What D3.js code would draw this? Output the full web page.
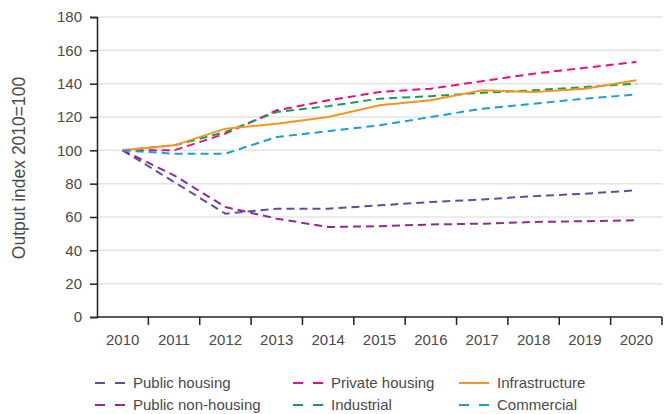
<!DOCTYPE html>
<html>
<head>
<meta charset="utf-8">
<script src="https://cdn.jsdelivr.net/npm/d3@7"></script>
<style>
  body { margin: 0; background: #fff; }
  svg text { font-family: "Liberation Sans", Arial, sans-serif; fill: #4a4a4a; }
</style>
</head>
<body>
<div id="chart"></div>
<script>
var years = ["2010", "2011", "2012", "2013", "2014", "2015", "2016", "2017", "2018", "2019", "2020"];
var yTicks = [0, 20, 40, 60, 80, 100, 120, 140, 160, 180];

var publicHousing    = [100, 81, 62, 65, 65, 67, 69, 70.5, 72.5, 74, 76];
var publicNonHousing = [100, 85, 66, 59, 54, 54.5, 55.5, 56, 57, 57.5, 58];
var privateHousing   = [100, 100, 110, 124, 130, 135, 137, 141.5, 146, 149.5, 153];
var industrial       = [100, 103, 111, 123, 126.5, 131, 132.5, 134.5, 136, 138, 140];
var infrastructure   = [100, 103, 113, 116, 120, 127, 130, 136, 135, 137, 142];
var commercial       = [100, 98, 98, 108, 111.5, 115, 120, 125, 128, 131, 133.5];

var series = [
    {name: "Public housing", values: publicHousing, color: "#5a4fa6", dash: "8,5"},
    {name: "Public non-housing", values: publicNonHousing, color: "#932b8f", dash: "8,5"},
    {name: "Private housing", values: privateHousing, color: "#ea0d84", dash: "8,5"},
    {name: "Industrial", values: industrial, color: "#10a155", dash: "8,5"},
    {name: "Infrastructure", values: infrastructure, color: "#f7941e", dash: null},
    {name: "Commercial", values: commercial, color: "#1b9ddb", dash: "8,5"}
];

function init() {
    var w = 666, h = 414;
    var left = 97, right = 662, top = 17, bottom = 317;

    var svg = d3.select("#chart").append("svg")
        .attr("width", w)
        .attr("height", h);

    var x = d3.scaleBand().domain(years).range([left, right]);
    var y = d3.scaleLinear().domain([0, 180]).range([bottom, top]);

    // grid
    svg.append("g").selectAll("line")
        .data(yTicks.filter(function(d) { return d > 0; }))
        .enter().append("line")
        .attr("x1", left).attr("x2", right)
        .attr("y1", function(d) { return y(d); })
        .attr("y2", function(d) { return y(d); })
        .attr("stroke", "#e4e4e4")
        .attr("stroke-width", 1.5);

    // y axis
    var yAxis = svg.append("g")
        .attr("transform", "translate(" + left + ",0)")
        .call(d3.axisLeft(y).tickValues(yTicks).tickSize(7).tickPadding(8));
    yAxis.select(".domain").attr("stroke", "#231f20").attr("stroke-width", 1.5);
    yAxis.selectAll(".tick line").attr("stroke", "#231f20").attr("stroke-width", 1.5);
    yAxis.selectAll("text").attr("font-size", 15).attr("font-family", null).style("fill", "#4a4a4a");

    // x axis
    var xAxis = svg.append("g")
        .attr("transform", "translate(0," + bottom + ")")
        .call(d3.axisBottom(x).tickSize(0).tickPadding(17));
    xAxis.select(".domain").attr("d", "M" + left + ",0H" + right)
        .attr("stroke", "#231f20").attr("stroke-width", 1.5);
    xAxis.selectAll("text").attr("font-size", 15).attr("font-family", null).style("fill", "#4a4a4a");
    xAxis.selectAll(".bound")
        .data(years)
        .enter().append("line")
        .attr("x1", function(d) { return x(d) + x.bandwidth(); })
        .attr("x2", function(d) { return x(d) + x.bandwidth(); })
        .attr("y1", 0).attr("y2", 8)
        .attr("stroke", "#231f20")
        .attr("stroke-width", 1.5);

    svg.append("text")
        .attr("transform", "translate(25,168) rotate(-90)")
        .attr("text-anchor", "middle")
        .attr("font-size", 17.5)
        .text("Output index 2010=100");

    var line = d3.line()
        .x(function(d, i) { return x(years[i]) + x.bandwidth() / 2; })
        .y(function(d) { return y(d); });

    svg.append("g").selectAll("path")
        .data(series)
        .enter().append("path")
        .attr("d", function(d) { return line(d.values); })
        .attr("fill", "none")
        .attr("stroke", function(d) { return d.color; })
        .attr("stroke-width", 2)
        .attr("stroke-dasharray", function(d) { return d.dash; });

    // legend
    var colX = [95, 293, 459];
    var rowY = [383, 405];
    var order = [0, 2, 4, 1, 3, 5];
    var leg = svg.append("g").selectAll("g")
        .data(order.map(function(k) { return series[k]; }))
        .enter().append("g")
        .attr("transform", function(d, i) {
            return "translate(" + colX[i % 3] + "," + rowY[Math.floor(i / 3)] + ")";
        });
    leg.append("line")
        .attr("x1", 0).attr("x2", 30)
        .attr("stroke", function(d) { return d.color; })
        .attr("stroke-width", 2)
        .attr("stroke-dasharray", function(d) { return d.dash ? "10,10" : null; });
    leg.append("text")
        .attr("x", 38)
        .attr("dy", "0.35em")
        .attr("font-size", 15)
        .text(function(d) { return d.name; });
}

window.onload = init;
</script>
</body>
</html>
